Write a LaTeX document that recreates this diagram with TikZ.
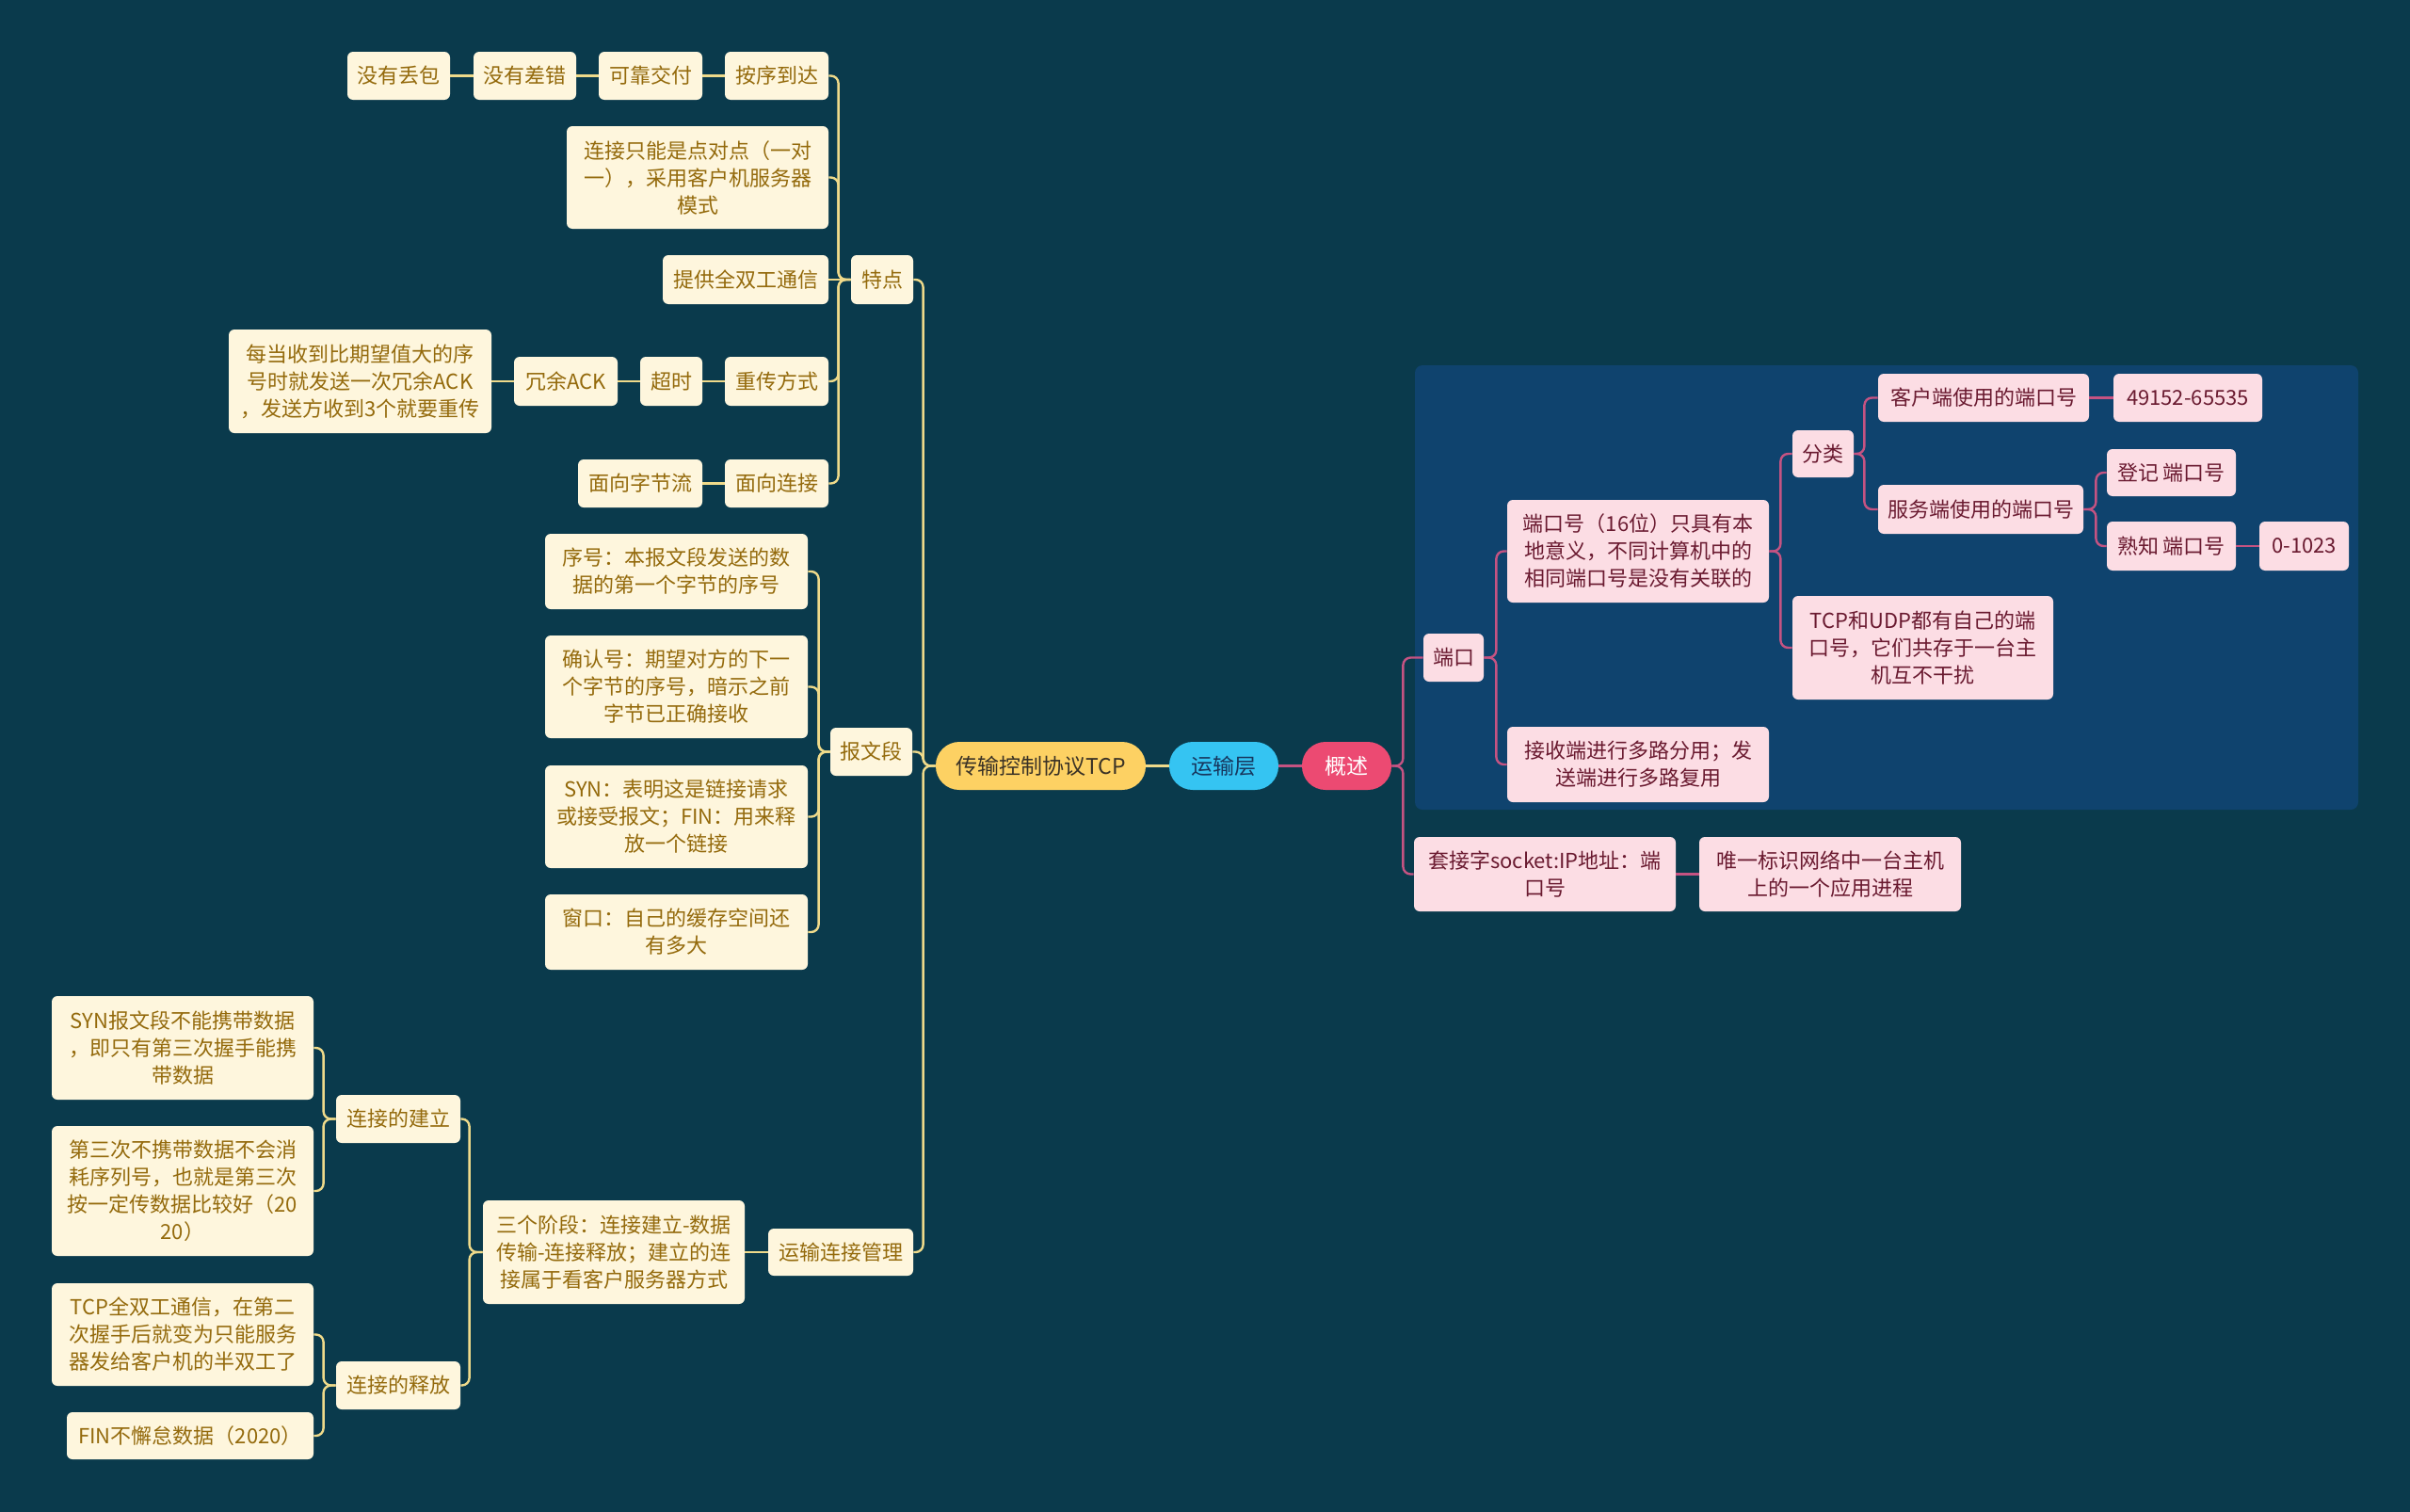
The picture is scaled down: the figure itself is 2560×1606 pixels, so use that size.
\documentclass[tikz,border=0pt]{standalone}
\usepackage{fontspec}
\setmainfont{Noto Sans CJK SC}
\definecolor{bg}{HTML}{0A3A4C}
\definecolor{panel}{HTML}{0F436E}
\definecolor{cream}{HTML}{FEF6DD}
\definecolor{creamtxt}{HTML}{946A0C}
\definecolor{ylw}{HTML}{EFDA8A}
\definecolor{pinkbox}{HTML}{FCDDE4}
\definecolor{pinktxt}{HTML}{6A1A30}
\definecolor{pinkln}{HTML}{C55382}
\definecolor{tcpc}{HTML}{FDD163}
\definecolor{yscc}{HTML}{35C4F2}
\definecolor{gscc}{HTML}{EC4A72}
\definecolor{tcptxt}{HTML}{3A3226}
\definecolor{ysctxt}{HTML}{17375E}
\tikzset{
  sz/.style 2 args={minimum width=#1*0.5pt, minimum height=#2*0.5pt},
  basebox/.style={rounded corners=3pt, inner sep=0pt, align=center, font=\fontsize{11pt}{14.5pt}\selectfont},
  cnode/.style={basebox, fill=cream, text=creamtxt},
  pnode/.style={basebox, fill=pinkbox, text=pinktxt},
  oval/.style={basebox, rounded corners=12.5pt, font=\fontsize{11.5pt}{14pt}\selectfont},
  yl/.style={draw=ylw, line width=1.2pt, rounded corners=4pt},
  pl/.style={draw=pinkln, line width=1.2pt, rounded corners=4pt},
}
\begin{document}
\begin{tikzpicture}[x=0.5pt,y=-0.5pt]
\path[fill=bg] (0,0) rectangle (2560,1606);
\useasboundingbox (0,0) rectangle (2560,1606);
\fill[panel, rounded corners=4pt] (1503,388) rectangle (2505,860);

% ---- left: TCP ----
\node[cnode, sz={109}{51}] (n1) at (423.5,80.5) {没有丢包};
\node[cnode, sz={109}{51}] (n2) at (557.5,80.5) {没有差错};
\node[cnode, sz={110}{51}] (n3) at (691,80.5) {可靠交付};
\node[cnode, sz={110}{51}] (n4) at (825,80.5) {按序到达};
\node[cnode, sz={278}{109}] (n5) at (741,188.5) {连接只能是点对点（一对\\一），采用客户机服务器\\模式};
\node[cnode, sz={176}{52}] (n6) at (792,297) {提供全双工通信};
\node[cnode, sz={66}{52}] (tedian) at (937,297) {特点};
\node[cnode, sz={110}{52}] (n8) at (825,405) {重传方式};
\node[cnode, sz={66}{52}] (chaoshi) at (713,405) {超时};
\node[cnode, sz={110}{52}] (rongyu) at (601,405) {冗余ACK};
\node[cnode, sz={279}{110}] (meidang) at (382.5,405) {每当收到比期望值大的序\\号时就发送一次冗余ACK\\，发送方收到3个就要重传};
\node[cnode, sz={110}{51}] (mxlj) at (825,513.5) {面向连接};
\node[cnode, sz={132}{51}] (mxzj) at (680,513.5) {面向字节流};

\node[cnode, sz={279}{80}] (xuhao) at (718.5,607) {序号：本报文段发送的数\\据的第一个字节的序号};
\node[cnode, sz={279}{109}] (queren) at (718.5,729.5) {确认号：期望对方的下一\\个字节的序号，暗示之前\\字节已正确接收};
\node[cnode, sz={279}{109}] (synf) at (718.5,867.5) {SYN：表明这是链接请求\\或接受报文；FIN：用来释\\放一个链接};
\node[cnode, sz={279}{80}] (chuangkou) at (718.5,990) {窗口：自己的缓存空间还\\有多大};
\node[cnode, sz={87}{51}] (bwd) at (925.5,798.5) {报文段};

\node[oval, sz={223}{51}, fill=tcpc, text=tcptxt] (tcp) at (1105.5,813.5) {传输控制协议TCP};
\node[oval, sz={116}{51}, fill=yscc, text=ysctxt] (ysc) at (1300,813.5) {运输层};
\node[oval, sz={95}{51}, fill=gscc, text=white] (gs) at (1430.5,813.5) {概述};

\node[cnode, sz={154}{50}] (ysgl) at (893,1330) {运输连接管理};
\node[cnode, sz={278}{110}] (sgjd) at (652,1330) {三个阶段：连接建立-数据\\传输-连接释放；建立的连\\接属于看客户服务器方式};
\node[cnode, sz={132}{51}] (jl) at (423,1188.5) {连接的建立};
\node[cnode, sz={132}{51}] (sf) at (423,1471.5) {连接的释放};
\node[cnode, sz={278}{110}] (synbw) at (194,1113) {SYN报文段不能携带数据\\，即只有第三次握手能携\\带数据};
\node[cnode, sz={278}{138}] (dsc) at (194,1265) {第三次不携带数据不会消\\耗序列号，也就是第三次\\按一定传数据比较好（20\\20）};
\node[cnode, sz={278}{109}] (tcpqs) at (194,1417.5) {TCP全双工通信，在第二\\次握手后就变为只能服务\\器发给客户机的半双工了};
\node[cnode, sz={262}{50}] (fin) at (202,1525) {FIN不懈怠数据（2020）};

% ---- right: 概述 ----
\node[pnode, sz={64}{51}] (dk) at (1544,698.5) {端口};
\node[pnode, sz={278}{109}] (dkh) at (1740,585.5) {端口号（16位）只具有本\\地意义，不同计算机中的\\相同端口号是没有关联的};
\node[pnode, sz={278}{80}] (js) at (1740,812) {接收端进行多路分用；发\\送端进行多路复用};
\node[pnode, sz={65}{50}] (fl) at (1936.5,482) {分类};
\node[pnode, sz={277}{110}] (tu) at (2042.5,688) {TCP和UDP都有自己的端\\口号，它们共存于一台主\\机互不干扰};
\node[pnode, sz={224}{51}] (kh) at (2107,422.5) {客户端使用的端口号};
\node[pnode, sz={158}{51}] (r1) at (2324,422.5) {49152-65535};
\node[pnode, sz={218}{52}] (fw) at (2104,541) {服务端使用的端口号};
\node[pnode, sz={137}{50}] (dj) at (2306.5,502) {登记 端口号};
\node[pnode, sz={137}{52}] (sz) at (2306.5,580) {熟知 端口号};
\node[pnode, sz={95}{52}] (r2) at (2447.5,580) {0-1023};
\node[pnode, sz={278}{79}] (tjz) at (1641,928.5) {套接字socket:IP地址：端\\口号};
\node[pnode, sz={278}{79}] (wy) at (1944,928.5) {唯一标识网络中一台主机\\上的一个应用进程};

% ---- connectors (yellow) ----
\draw[yl] (n1.east) -- (n2.west);
\draw[yl] (n2.east) -- (n3.west);
\draw[yl] (n3.east) -- (n4.west);
\draw[yl] (tedian.west) -- ++(-13,0) |- (n4.east);
\draw[yl] (tedian.west) -- ++(-13,0) |- (n5.east);
\draw[yl] (tedian.west) -- (n6.east);
\draw[yl] (tedian.west) -- ++(-13,0) |- (n8.east);
\draw[yl] (tedian.west) -- ++(-13,0) |- (mxlj.east);
\draw[yl] (n8.west) -- (chaoshi.east);
\draw[yl] (chaoshi.west) -- (rongyu.east);
\draw[yl] (rongyu.west) -- (meidang.east);
\draw[yl] (mxlj.west) -- (mxzj.east);

\draw[yl] (bwd.west) -- ++(-12,0) |- (xuhao.east);
\draw[yl] (bwd.west) -- ++(-12,0) |- (queren.east);
\draw[yl] (bwd.west) -- ++(-12,0) |- (synf.east);
\draw[yl] (bwd.west) -- ++(-12,0) |- (chuangkou.east);

\draw[yl] (tcp.west) -- ++(-13,0) |- (tedian.east);
\draw[yl] (tcp.west) -- ++(-13,0) |- (bwd.east);
\draw[yl] (tcp.west) -- ++(-13,0) |- (ysgl.east);
\draw[yl] (tcp.east) -- (ysc.west);

\draw[yl] (ysgl.west) -- (sgjd.east);
\draw[yl] (sgjd.west) -- ++(-14,0) |- (jl.east);
\draw[yl] (sgjd.west) -- ++(-14,0) |- (sf.east);
\draw[yl] (jl.west) -- ++(-13,0) |- (synbw.east);
\draw[yl] (jl.west) -- ++(-13,0) |- (dsc.east);
\draw[yl] (sf.west) -- ++(-13,0) |- (tcpqs.east);
\draw[yl] (sf.west) -- ++(-13,0) |- (fin.east);

% ---- connectors (pink) ----
\draw[pl] (ysc.east) -- (gs.west);
\draw[pl] (gs.east) -- ++(12,0) |- (dk.west);
\draw[pl] (gs.east) -- ++(12,0) |- (tjz.west);
\draw[pl] (tjz.east) -- (wy.west);
\draw[pl] (dk.east) -- ++(13,0) |- (dkh.west);
\draw[pl] (dk.east) -- ++(13,0) |- (js.west);
\draw[pl] (dkh.east) -- ++(12,0) |- (fl.west);
\draw[pl] (dkh.east) -- ++(12,0) |- (tu.west);
\draw[pl] (fl.east) -- ++(11,0) |- (kh.west);
\draw[pl] (fl.east) -- ++(11,0) |- (fw.west);
\draw[pl] (kh.east) -- (r1.west);
\draw[pl] (fw.east) -- ++(13,0) |- (dj.west);
\draw[pl] (fw.east) -- ++(13,0) |- (sz.west);
\draw[pl] (sz.east) -- (r2.west);
\end{tikzpicture}
\end{document}
